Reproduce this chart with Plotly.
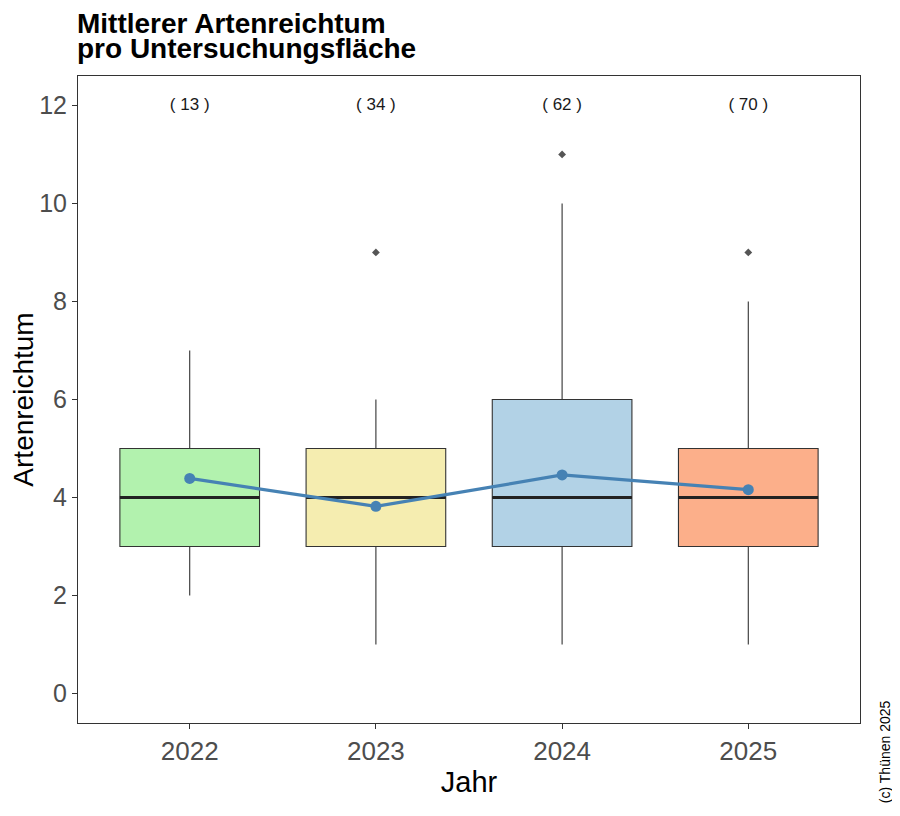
import plotly.graph_objects as go

years = ["2022", "2023", "2024", "2025"]
counts = [13, 34, 62, 70]
q1 = [3, 3, 3, 3]
median = [4, 4, 4, 4]
q3 = [5, 5, 6, 5]
lower = [2, 1, 1, 1]
upper = [7, 6, 10, 8]
outlier_years = ["2023", "2024", "2025"]
outlier_vals = [9, 11, 9]
means = [4.39, 3.82, 4.46, 4.16]
colors = ["#B2F2AE", "#F5EDB0", "#B2D2E6", "#FCAF8A"]
title_lines = ["Mittlerer Artenreichtum", "pro Untersuchungsfläche"]

FONT = "Liberation Sans, Arial"

fig = go.Figure()
for i, yr in enumerate(years):
    fig.add_trace(go.Box(
        x=[yr], q1=[q1[i]], median=[median[i]], q3=[q3[i]],
        lowerfence=[lower[i]], upperfence=[upper[i]],
        fillcolor=colors[i], line=dict(color="#333333", width=1.1),
        whiskerwidth=0, width=0.75, boxpoints=False, showlegend=False,
        hoverinfo="skip",
    ))
    # thick median bar: degenerate box at the median
    fig.add_trace(go.Box(
        x=[yr], q1=[median[i]], median=[median[i]], q3=[median[i]],
        lowerfence=[median[i]], upperfence=[median[i]],
        fillcolor="rgba(0,0,0,0)", line=dict(color="#222222", width=3),
        whiskerwidth=0, width=0.75, boxpoints=False, showlegend=False,
        hoverinfo="skip",
    ))

fig.add_trace(go.Scatter(
    x=outlier_years, y=outlier_vals, mode="markers",
    marker=dict(symbol="diamond", size=6, color="#555555"),
    showlegend=False,
))
fig.add_trace(go.Scatter(
    x=years, y=means, mode="lines+markers",
    line=dict(color="#4682B4", width=3.2),
    marker=dict(color="#4682B4", size=11),
    showlegend=False,
))
fig.add_trace(go.Scatter(
    x=years, y=[12] * len(years), mode="text",
    text=[f"( {c} )" for c in counts],
    textfont=dict(family=FONT, size=17, color="#1a1a1a"),
    showlegend=False,
))

fig.update_layout(
    width=900, height=816,
    margin=dict(l=70, r=48, t=68, b=101),
    plot_bgcolor="white", paper_bgcolor="white",
    boxmode="overlay",
    font=dict(family=FONT, color="#4D4D4D"),
    xaxis=dict(
        type="category", categoryorder="array", categoryarray=years,
        range=[-0.6, 3.6], showgrid=False, zeroline=False,
        showline=True, linecolor="#333333", linewidth=1, mirror=True,
        ticks="outside", ticklen=5, tickcolor="#333333",
        tickfont=dict(size=26, color="#4D4D4D"),
        title=dict(text="Jahr", font=dict(size=29, color="black"), standoff=6),
        automargin=False,
    ),
    yaxis=dict(
        range=[-0.6, 12.6], tickvals=[0, 2, 4, 6, 8, 10, 12],
        showgrid=False, zeroline=False,
        showline=True, linecolor="#333333", linewidth=1, mirror=True,
        ticks="outside", ticklen=5, tickcolor="#333333",
        tickfont=dict(size=25, color="#4D4D4D"),
        title=dict(text="Artenreichtum", font=dict(size=28, color="black"), standoff=6),
        automargin=False,
    ),
)
for k, (line, shift) in enumerate(zip(title_lines, [35, 10])):
    fig.add_annotation(
        text=f"<b>{line}</b>",
        xref="paper", yref="paper", x=0, y=1, xanchor="left", yanchor="bottom",
        yshift=shift, xshift=-3, showarrow=False, align="left",
        font=dict(size=28, color="black", family=FONT),
    )
fig.add_annotation(
    text="(c) Thünen 2025", textangle=-90, xref="paper", yref="paper",
    x=1.032, y=-0.045, xanchor="center", yanchor="middle", showarrow=False,
    font=dict(size=14, color="black", family=FONT),
)
fig.write_html("out.html")
